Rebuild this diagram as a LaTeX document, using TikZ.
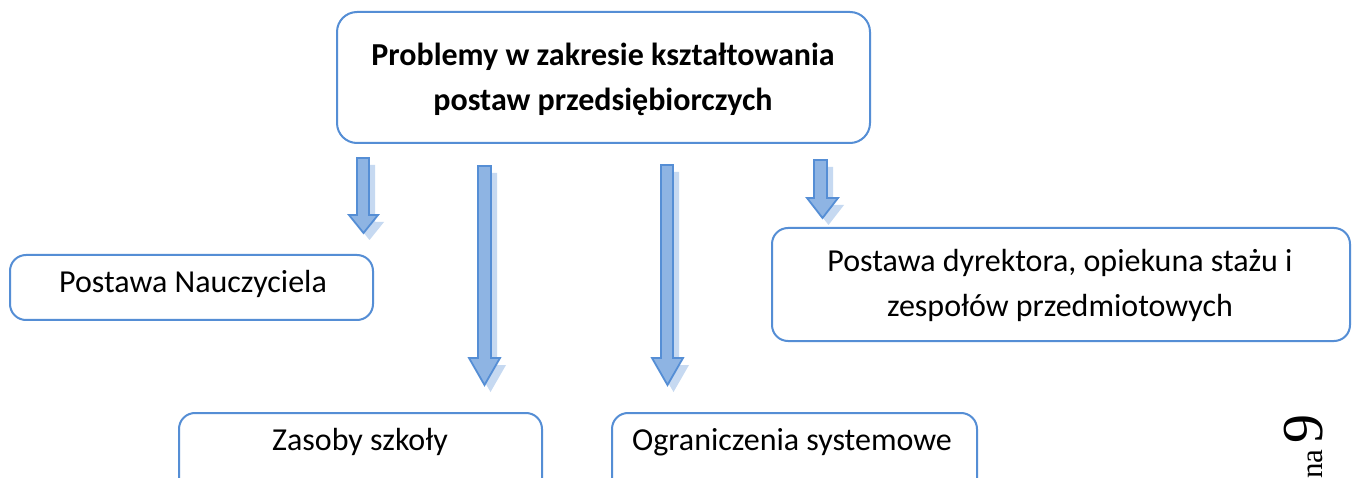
\documentclass[tikz,border=0pt]{standalone}
\usepackage{fontspec}
\setmainfont{Carlito}
\newfontfamily\serifnum{Liberation Serif}
\definecolor{boxline}{HTML}{558ED5}
\definecolor{arrfill}{HTML}{8EB4E3}
\definecolor{arrline}{HTML}{558ED5}
\definecolor{arrshadow}{HTML}{C6D9F1}
\newcommand\blockarr[7]{%
  % #1 shaft left, #2 shaft right, #3 top, #4 head left, #5 head right, #6 head start, #7 tip
  \fill[arrshadow,shift={(6,7)}] (#1,#3) -- (#2,#3) -- (#2,#6) -- (#5,#6) -- ({(#4+#5)/2},#7) -- (#4,#6) -- (#1,#6) -- cycle;
  \draw[arrline,fill=arrfill,line width=1.8pt,line join=miter] (#1,#3) -- (#2,#3) -- (#2,#6) -- (#5,#6) -- ({(#4+#5)/2},#7) -- (#4,#6) -- (#1,#6) -- cycle;
}
\tikzset{
  box/.style={draw=boxline,line width=2pt,rounded corners=16pt,fill=white},
  txt/.style={font=\fontsize{32}{45}\selectfont,text=black,align=center,inner sep=0pt},
  bold/.style={txt,font=\fontsize{32}{45}\selectfont\bfseries},
}
\begin{document}
\begin{tikzpicture}[x=1pt,y=-1pt]
\useasboundingbox (0,0) rectangle (1352,478);
\fill[white] (0,0) rectangle (1352,478);
% boxes
\draw[box,rounded corners=20pt] (337,12) rectangle (870,143);
\node[bold] (top) at (603,79) {Problemy w zakresie kształtowania\\postaw przedsiębiorczych};
\draw[box] (10,255) rectangle (373,320);
\node[txt] (nauczyciel) at (193,284) {Postawa Nauczyciela};
\draw[box] (772,228) rectangle (1350,341);
\node[txt] (dyrektor) at (1060,285) {Postawa dyrektora, opiekuna stażu i\\zespołów przedmiotowych};
\draw[box] (179,413) rectangle (542,500);
\node[txt] (zasoby) at (360,442) {Zasoby szkoły};
\draw[box] (612,413) rectangle (977,500);
\node[txt] (ograniczenia) at (792,442) {Ograniczenia systemowe};
% arrows
\blockarr{357}{369}{158}{349}{378}{215}{233}
\blockarr{478}{491}{166}{469}{500}{358}{385}
\blockarr{661}{673}{165}{652}{683}{358}{385}
\blockarr{814}{827}{160}{807}{838}{198}{218}
% page number
\node[rotate=90,anchor=base west,inner sep=0pt,font=\serifnum] (page) at (1322,479) {\fontsize{31}{31}\selectfont na\kern6pt\fontsize{58}{58}\selectfont 9};
\end{tikzpicture}
\end{document}
